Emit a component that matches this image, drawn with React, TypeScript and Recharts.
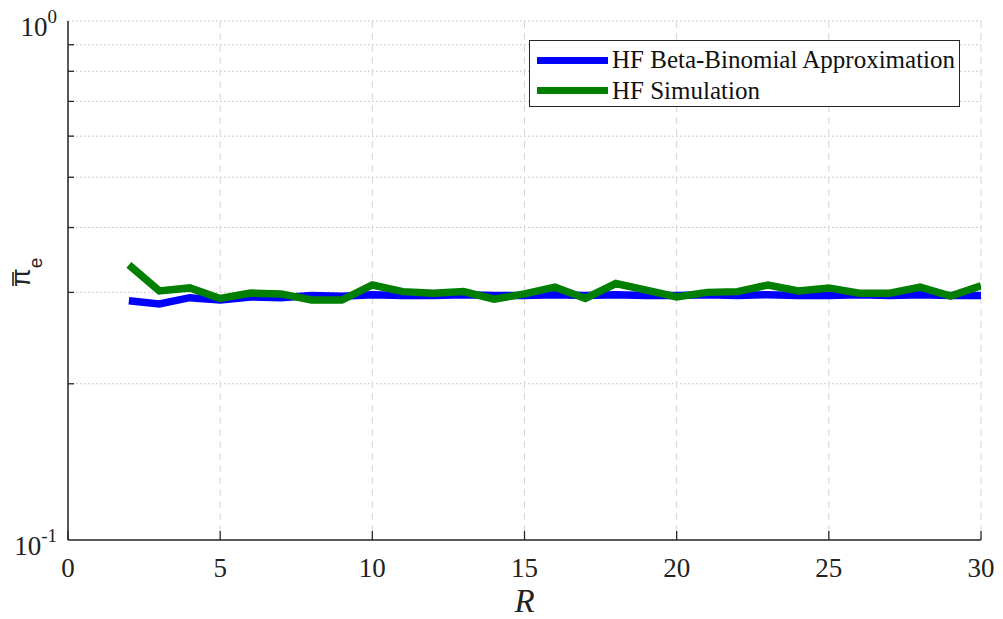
import React from "react";
import {
  LineChart,
  Line,
  XAxis,
  YAxis,
  CartesianGrid,
  Legend,
} from "recharts";

const rValues = [2, 3, 4, 5, 6, 7, 8, 9, 10, 11, 12, 13, 14, 15, 16, 17, 18, 19, 20, 21, 22, 23, 24, 25, 26, 27, 28, 29, 30];
const approxValues = [
  0.289, 0.285, 0.293, 0.29, 0.294, 0.293, 0.296, 0.295, 0.297, 0.296, 0.296, 0.297, 0.296, 0.296,
  0.297, 0.296, 0.297, 0.296, 0.296, 0.297, 0.296, 0.297, 0.296, 0.296, 0.297, 0.296, 0.297, 0.296, 0.296,
];
const simValues = [
  0.339, 0.302, 0.306, 0.292, 0.299, 0.298, 0.29, 0.29, 0.31, 0.301, 0.299, 0.301, 0.291, 0.298,
  0.307, 0.292, 0.312, 0.303, 0.294, 0.3, 0.301, 0.31, 0.302, 0.306, 0.299, 0.299, 0.307, 0.295, 0.309,
];
const xTicks = [0, 5, 10, 15, 20, 25, 30];
const yTicks = [0.1, 0.2, 0.3, 0.4, 0.5, 0.6, 0.7, 0.8, 0.9, 1];
const seriesNames = ["HF Beta-Binomial Approximation", "HF Simulation"];

const data = rValues.map((r, i) => ({ r, approx: approxValues[i], sim: simValues[i] }));

const BLUE = "#0000ff";
const GREEN = "#007f00";
const AXIS = "#262626";
const SERIF = "Liberation Serif, Times New Roman, serif";

function LeftTick(props: any) {
  const { x, y, payload } = props;
  const v = payload.value;
  const major = Math.abs(v - 1) < 1e-9 || Math.abs(v - 0.1) < 1e-9;
  return (
    <g>
      {!major && <line x1={x} x2={x + 6} y1={y} y2={y} stroke={AXIS} strokeWidth={1.3} />}
      {major && (
        <text x={x - 11} y={y + 15} textAnchor="end" fontFamily={SERIF} fontSize={27} fill="#222">
          10
          <tspan dy={-13} fontSize={19}>{Math.abs(v - 1) < 1e-9 ? "0" : "-1"}</tspan>
        </text>
      )}
    </g>
  );
}

function RightTick(props: any) {
  const { x, y, payload } = props;
  const v = payload.value;
  const major = Math.abs(v - 1) < 1e-9 || Math.abs(v - 0.1) < 1e-9;
  if (major) return <g />;
  return <line x1={x} x2={x - 6} y1={y} y2={y} stroke={AXIS} strokeWidth={1.3} />;
}

function BottomTick(props: any) {
  const { x, y, payload } = props;
  return (
    <g>
      <line x1={x} x2={x} y1={y} y2={y - 9} stroke={AXIS} strokeWidth={1.3} />
      <text x={x} y={y + 37} textAnchor="middle" fontFamily={SERIF} fontSize={27} fill="#222">
        {payload.value}
      </text>
    </g>
  );
}

function TopTick(props: any) {
  const { x, y } = props;
  return <line x1={x} x2={x} y1={y} y2={y + 9} stroke={AXIS} strokeWidth={1.3} />;
}

function XLabel(props: any) {
  const { viewBox } = props;
  const cx = viewBox.x + viewBox.width / 2;
  return (
    <text x={cx} y={612} textAnchor="middle" fontFamily={SERIF} fontStyle="italic" fontSize={33} fill="#222">
      R
    </text>
  );
}

function YLabel() {
  return (
    <g transform="translate(30, 287) rotate(-90)">
      <text x={0} y={0} fontFamily="Liberation Sans, Arial, sans-serif" fontSize={27} fill="#222">
        {"\u03C0"}
        <tspan dy={12} fontSize={19}>e</tspan>
      </text>
      <line x1={1} x2={15} y1={-17} y2={-17} stroke="#222" strokeWidth={1.6} />
    </g>
  );
}

function LegendBox() {
  const colors = [BLUE, GREEN];
  return (
    <div
      style={{
        width: 431,
        height: 67,
        border: `1.5px solid ${AXIS}`,
        background: "#fff",
        boxSizing: "border-box",
        padding: "4px 0 0 7px",
      }}
    >
      {seriesNames.map((name, i) => (
        <div key={name} style={{ display: "flex", alignItems: "center", height: 30.5 }}>
          <div style={{ width: 71, height: 7, background: colors[i], marginRight: 4 }} />
          <span style={{ fontFamily: SERIF, fontSize: 25, color: "#111", lineHeight: "30px" }}>{name}</span>
        </div>
      ))}
    </div>
  );
}

export default function App() {
  return (
    <div style={{ position: "absolute", left: 0, top: 0, width: 1003, height: 619, background: "#fff" }}>
      <LineChart width={1003} height={619} data={data} margin={{ top: 21, right: 22, left: 0, bottom: 0 }}>
        <CartesianGrid horizontal={true} vertical={false} stroke="#bdbdbd" strokeDasharray="1.5 2.5" />
        <CartesianGrid horizontal={false} vertical={true} stroke="#d6d6d6" strokeDasharray="7 5" />
        <XAxis
          dataKey="r"
          type="number"
          domain={[0, 30]}
          ticks={xTicks}
          interval={0}
          allowDataOverflow
          height={79}
          tickSize={0}
          tickMargin={0}
          tickLine={false}
          axisLine={{ stroke: AXIS, strokeWidth: 1.5 }}
          tick={<BottomTick />}
          label={<XLabel />}
        />
        <XAxis
          xAxisId="top"
          orientation="top"
          dataKey="r"
          type="number"
          domain={[0, 30]}
          ticks={xTicks}
          interval={0}
          allowDataOverflow
          height={0}
          tickSize={0}
          tickMargin={0}
          tickLine={false}
          axisLine={{ stroke: AXIS, strokeWidth: 1.5 }}
          tick={<TopTick />}
        />
        <YAxis
          scale="log"
          type="number"
          domain={[0.1, 1]}
          ticks={yTicks}
          interval={0}
          allowDataOverflow
          width={68}
          tickSize={0}
          tickMargin={0}
          tickLine={false}
          axisLine={{ stroke: AXIS, strokeWidth: 1.5 }}
          tick={<LeftTick />}
          label={<YLabel />}
        />
        <YAxis
          yAxisId="right"
          orientation="right"
          scale="log"
          type="number"
          domain={[0.1, 1]}
          ticks={yTicks}
          interval={0}
          allowDataOverflow
          width={0}
          tickSize={0}
          tickMargin={0}
          tickLine={false}
          axisLine={{ stroke: AXIS, strokeWidth: 1.5 }}
          tick={<RightTick />}
        />
        <Legend
          layout="vertical"
          align="center"
          verticalAlign="middle"
          wrapperStyle={{ left: 529, top: 40, width: 431 }}
          content={<LegendBox />}
        />
        <Line
          type="linear"
          dataKey="approx"
          stroke={BLUE}
          strokeWidth={7.5}
          dot={false}
          activeDot={false}
          isAnimationActive={false}
        />
        <Line
          type="linear"
          dataKey="sim"
          stroke={GREEN}
          strokeWidth={7.5}
          dot={false}
          activeDot={false}
          isAnimationActive={false}
        />
      </LineChart>
    </div>
  );
}
